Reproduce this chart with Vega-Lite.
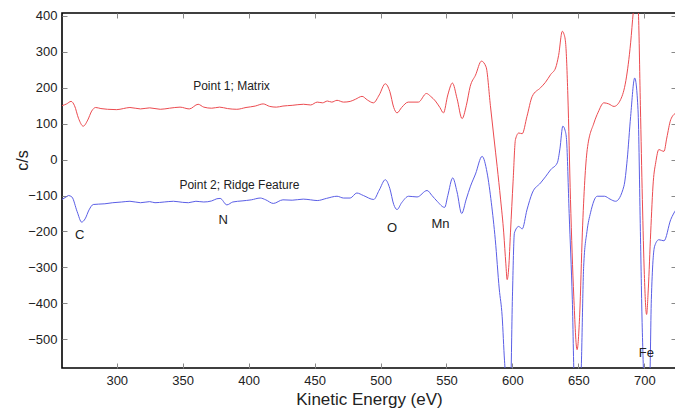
{
  "$schema": "https://vega.github.io/schema/vega-lite/v6.json",
  "width": 614,
  "height": 355,
  "autosize": "none",
  "padding": {"left": 62, "top": 13, "right": 0, "bottom": 46},
  "background": "white",
  "config": {
    "view": {"stroke": "#000", "strokeWidth": 1.6},
    "font": "Liberation Sans",
    "axis": {"domain": false, "grid": false, "tickColor": "#888", "tickWidth": 1, "labelColor": "#222", "labelFontSize": 13, "labelFont": "Liberation Sans", "titleFont": "Liberation Sans", "titleFontWeight": "normal", "titleColor": "#222"}
  },
  "datasets": {
    "curves": [
      {"s": "Point 1", "x": 258.5, "y": 150}, {"s": "Point 1", "x": 262, "y": 155}, {"s": "Point 1", "x": 265.4, "y": 162}, {"s": "Point 1", "x": 268, "y": 150}, {"s": "Point 1", "x": 271, "y": 115}, {"s": "Point 1", "x": 274.6, "y": 93}, {"s": "Point 1", "x": 278, "y": 110}, {"s": "Point 1", "x": 281, "y": 135}, {"s": "Point 1", "x": 284, "y": 145}, {"s": "Point 1", "x": 288, "y": 142}, {"s": "Point 1", "x": 293, "y": 140}, {"s": "Point 1", "x": 300, "y": 139}, {"s": "Point 1", "x": 305, "y": 142}, {"s": "Point 1", "x": 310, "y": 145}, {"s": "Point 1", "x": 318, "y": 141}, {"s": "Point 1", "x": 325, "y": 144}, {"s": "Point 1", "x": 333, "y": 140}, {"s": "Point 1", "x": 340, "y": 143}, {"s": "Point 1", "x": 348, "y": 146}, {"s": "Point 1", "x": 355, "y": 141}, {"s": "Point 1", "x": 361.7, "y": 154}, {"s": "Point 1", "x": 366, "y": 146}, {"s": "Point 1", "x": 372, "y": 143}, {"s": "Point 1", "x": 378, "y": 146}, {"s": "Point 1", "x": 384, "y": 142}, {"s": "Point 1", "x": 391, "y": 140}, {"s": "Point 1", "x": 398, "y": 145}, {"s": "Point 1", "x": 405, "y": 149}, {"s": "Point 1", "x": 411, "y": 155}, {"s": "Point 1", "x": 416, "y": 148}, {"s": "Point 1", "x": 421, "y": 146}, {"s": "Point 1", "x": 426, "y": 149}, {"s": "Point 1", "x": 433, "y": 151}, {"s": "Point 1", "x": 441.6, "y": 154}, {"s": "Point 1", "x": 447, "y": 152}, {"s": "Point 1", "x": 452, "y": 160}, {"s": "Point 1", "x": 456, "y": 158}, {"s": "Point 1", "x": 459.7, "y": 163}, {"s": "Point 1", "x": 463, "y": 160}, {"s": "Point 1", "x": 467, "y": 165}, {"s": "Point 1", "x": 472, "y": 160}, {"s": "Point 1", "x": 477, "y": 162}, {"s": "Point 1", "x": 481, "y": 168}, {"s": "Point 1", "x": 486, "y": 176}, {"s": "Point 1", "x": 490, "y": 166}, {"s": "Point 1", "x": 494.6, "y": 158}, {"s": "Point 1", "x": 499, "y": 180}, {"s": "Point 1", "x": 503.6, "y": 211}, {"s": "Point 1", "x": 507, "y": 190}, {"s": "Point 1", "x": 510, "y": 145}, {"s": "Point 1", "x": 512.5, "y": 130}, {"s": "Point 1", "x": 516, "y": 145}, {"s": "Point 1", "x": 521, "y": 160}, {"s": "Point 1", "x": 528.7, "y": 160}, {"s": "Point 1", "x": 534.8, "y": 184}, {"s": "Point 1", "x": 538, "y": 176}, {"s": "Point 1", "x": 541.6, "y": 163}, {"s": "Point 1", "x": 545, "y": 145}, {"s": "Point 1", "x": 547.7, "y": 130}, {"s": "Point 1", "x": 551, "y": 180}, {"s": "Point 1", "x": 554.5, "y": 213}, {"s": "Point 1", "x": 558, "y": 170}, {"s": "Point 1", "x": 561.8, "y": 114}, {"s": "Point 1", "x": 565, "y": 150}, {"s": "Point 1", "x": 568, "y": 204}, {"s": "Point 1", "x": 572, "y": 235}, {"s": "Point 1", "x": 576.5, "y": 274}, {"s": "Point 1", "x": 580, "y": 258}, {"s": "Point 1", "x": 583.3, "y": 150}, {"s": "Point 1", "x": 586, "y": 60}, {"s": "Point 1", "x": 588.4, "y": -19}, {"s": "Point 1", "x": 591, "y": -110}, {"s": "Point 1", "x": 593.4, "y": -204}, {"s": "Point 1", "x": 595, "y": -290}, {"s": "Point 1", "x": 596, "y": -334}, {"s": "Point 1", "x": 597.2, "y": -300}, {"s": "Point 1", "x": 598.5, "y": -204}, {"s": "Point 1", "x": 600.5, "y": -60}, {"s": "Point 1", "x": 602.3, "y": 56}, {"s": "Point 1", "x": 604.8, "y": 74}, {"s": "Point 1", "x": 607.4, "y": 72}, {"s": "Point 1", "x": 611, "y": 120}, {"s": "Point 1", "x": 615, "y": 176}, {"s": "Point 1", "x": 621.3, "y": 200}, {"s": "Point 1", "x": 625, "y": 215}, {"s": "Point 1", "x": 629, "y": 237}, {"s": "Point 1", "x": 632.7, "y": 255}, {"s": "Point 1", "x": 635, "y": 290}, {"s": "Point 1", "x": 637.8, "y": 357}, {"s": "Point 1", "x": 639, "y": 350}, {"s": "Point 1", "x": 640.3, "y": 325}, {"s": "Point 1", "x": 642, "y": 180}, {"s": "Point 1", "x": 644, "y": -111}, {"s": "Point 1", "x": 646.5, "y": -380}, {"s": "Point 1", "x": 649, "y": -529}, {"s": "Point 1", "x": 651, "y": -430}, {"s": "Point 1", "x": 653, "y": -204}, {"s": "Point 1", "x": 656.7, "y": 28}, {"s": "Point 1", "x": 661.8, "y": 102}, {"s": "Point 1", "x": 665, "y": 132}, {"s": "Point 1", "x": 669.3, "y": 158}, {"s": "Point 1", "x": 673, "y": 155}, {"s": "Point 1", "x": 677, "y": 148}, {"s": "Point 1", "x": 682, "y": 167}, {"s": "Point 1", "x": 686, "y": 220}, {"s": "Point 1", "x": 689.6, "y": 325}, {"s": "Point 1", "x": 691.6, "y": 410}, {"s": "Point 1", "x": 693.5, "y": 470}, {"s": "Point 1", "x": 695.4, "y": 415}, {"s": "Point 1", "x": 697, "y": 150}, {"s": "Point 1", "x": 698.5, "y": -111}, {"s": "Point 1", "x": 700, "y": -320}, {"s": "Point 1", "x": 701.7, "y": -431}, {"s": "Point 1", "x": 703, "y": -360}, {"s": "Point 1", "x": 704.8, "y": -204}, {"s": "Point 1", "x": 706.8, "y": -60}, {"s": "Point 1", "x": 708.6, "y": -9}, {"s": "Point 1", "x": 711, "y": 28}, {"s": "Point 1", "x": 713, "y": 25}, {"s": "Point 1", "x": 714.9, "y": 23}, {"s": "Point 1", "x": 717, "y": 60}, {"s": "Point 1", "x": 720, "y": 111}, {"s": "Point 1", "x": 724, "y": 130},

      {"s": "Point 2", "x": 258.5, "y": -111}, {"s": "Point 2", "x": 262, "y": -103}, {"s": "Point 2", "x": 263.3, "y": -100}, {"s": "Point 2", "x": 266, "y": -104}, {"s": "Point 2", "x": 270, "y": -145}, {"s": "Point 2", "x": 273.4, "y": -174}, {"s": "Point 2", "x": 276, "y": -165}, {"s": "Point 2", "x": 279, "y": -140}, {"s": "Point 2", "x": 282.2, "y": -125}, {"s": "Point 2", "x": 286, "y": -124}, {"s": "Point 2", "x": 291, "y": -123}, {"s": "Point 2", "x": 297, "y": -120}, {"s": "Point 2", "x": 303.8, "y": -118}, {"s": "Point 2", "x": 310, "y": -116}, {"s": "Point 2", "x": 318, "y": -120}, {"s": "Point 2", "x": 325, "y": -117}, {"s": "Point 2", "x": 329, "y": -120}, {"s": "Point 2", "x": 336, "y": -118}, {"s": "Point 2", "x": 343, "y": -116}, {"s": "Point 2", "x": 350, "y": -119}, {"s": "Point 2", "x": 354.3, "y": -120}, {"s": "Point 2", "x": 360, "y": -116}, {"s": "Point 2", "x": 366, "y": -118}, {"s": "Point 2", "x": 372, "y": -115}, {"s": "Point 2", "x": 375.9, "y": -109}, {"s": "Point 2", "x": 378.4, "y": -108}, {"s": "Point 2", "x": 383.5, "y": -126}, {"s": "Point 2", "x": 388, "y": -118}, {"s": "Point 2", "x": 395, "y": -115}, {"s": "Point 2", "x": 402, "y": -112}, {"s": "Point 2", "x": 408.8, "y": -107}, {"s": "Point 2", "x": 413, "y": -112}, {"s": "Point 2", "x": 418.7, "y": -122}, {"s": "Point 2", "x": 426, "y": -112}, {"s": "Point 2", "x": 433, "y": -113}, {"s": "Point 2", "x": 441.4, "y": -110}, {"s": "Point 2", "x": 447, "y": -112}, {"s": "Point 2", "x": 452, "y": -114}, {"s": "Point 2", "x": 459, "y": -108}, {"s": "Point 2", "x": 467, "y": -102}, {"s": "Point 2", "x": 472, "y": -107}, {"s": "Point 2", "x": 477, "y": -107}, {"s": "Point 2", "x": 482, "y": -93}, {"s": "Point 2", "x": 487, "y": -100}, {"s": "Point 2", "x": 494.8, "y": -111}, {"s": "Point 2", "x": 499, "y": -85}, {"s": "Point 2", "x": 503.6, "y": -56}, {"s": "Point 2", "x": 507, "y": -80}, {"s": "Point 2", "x": 510, "y": -125}, {"s": "Point 2", "x": 512.5, "y": -139}, {"s": "Point 2", "x": 516, "y": -120}, {"s": "Point 2", "x": 521.3, "y": -102}, {"s": "Point 2", "x": 527.7, "y": -104}, {"s": "Point 2", "x": 535.3, "y": -86}, {"s": "Point 2", "x": 539, "y": -100}, {"s": "Point 2", "x": 542.9, "y": -116}, {"s": "Point 2", "x": 548.6, "y": -133}, {"s": "Point 2", "x": 551, "y": -100}, {"s": "Point 2", "x": 554.7, "y": -51}, {"s": "Point 2", "x": 558, "y": -90}, {"s": "Point 2", "x": 561.5, "y": -150}, {"s": "Point 2", "x": 565, "y": -110}, {"s": "Point 2", "x": 568.2, "y": -74}, {"s": "Point 2", "x": 572, "y": -40}, {"s": "Point 2", "x": 577, "y": 9}, {"s": "Point 2", "x": 580.8, "y": -37}, {"s": "Point 2", "x": 584, "y": -120}, {"s": "Point 2", "x": 587, "y": -223}, {"s": "Point 2", "x": 590, "y": -360}, {"s": "Point 2", "x": 592.2, "y": -436}, {"s": "Point 2", "x": 594, "y": -560}, {"s": "Point 2", "x": 596, "y": -640}, {"s": "Point 2", "x": 598.5, "y": -640}, {"s": "Point 2", "x": 600, "y": -380}, {"s": "Point 2", "x": 601.5, "y": -204}, {"s": "Point 2", "x": 604.8, "y": -186}, {"s": "Point 2", "x": 607.4, "y": -193}, {"s": "Point 2", "x": 611, "y": -140}, {"s": "Point 2", "x": 615, "y": -93}, {"s": "Point 2", "x": 621.3, "y": -65}, {"s": "Point 2", "x": 625, "y": -48}, {"s": "Point 2", "x": 629, "y": -28}, {"s": "Point 2", "x": 634, "y": -9}, {"s": "Point 2", "x": 636, "y": 30}, {"s": "Point 2", "x": 638.2, "y": 93}, {"s": "Point 2", "x": 640, "y": 80}, {"s": "Point 2", "x": 641, "y": 56}, {"s": "Point 2", "x": 643, "y": -150}, {"s": "Point 2", "x": 645.4, "y": -390}, {"s": "Point 2", "x": 647, "y": -620}, {"s": "Point 2", "x": 651.6, "y": -620}, {"s": "Point 2", "x": 654, "y": -297}, {"s": "Point 2", "x": 656.5, "y": -200}, {"s": "Point 2", "x": 659.2, "y": -148}, {"s": "Point 2", "x": 664.3, "y": -102}, {"s": "Point 2", "x": 669.8, "y": -102}, {"s": "Point 2", "x": 674, "y": -110}, {"s": "Point 2", "x": 678.2, "y": -116}, {"s": "Point 2", "x": 684.5, "y": -74}, {"s": "Point 2", "x": 687, "y": 0}, {"s": "Point 2", "x": 689.6, "y": 120}, {"s": "Point 2", "x": 692.7, "y": 227}, {"s": "Point 2", "x": 695.2, "y": 139}, {"s": "Point 2", "x": 697, "y": -200}, {"s": "Point 2", "x": 698.5, "y": -482}, {"s": "Point 2", "x": 700, "y": -620}, {"s": "Point 2", "x": 704, "y": -620}, {"s": "Point 2", "x": 705.3, "y": -390}, {"s": "Point 2", "x": 707.8, "y": -241}, {"s": "Point 2", "x": 711, "y": -223}, {"s": "Point 2", "x": 714.9, "y": -226}, {"s": "Point 2", "x": 720, "y": -167}, {"s": "Point 2", "x": 724, "y": -139}
    ],
    "labels": [
      {"t": "Point 1; Matrix", "x": 387, "y": 204, "size": 12},
      {"t": "Point 2; Ridge Feature", "x": 393, "y": -72, "size": 12},
      {"t": "C", "x": 272, "y": -209, "size": 13},
      {"t": "N", "x": 380.7, "y": -167, "size": 13},
      {"t": "O", "x": 508.7, "y": -189, "size": 13},
      {"t": "Mn", "x": 545.4, "y": -178, "size": 13},
      {"t": "Fe", "x": 701.5, "y": -537, "size": 13}
    ]
  },
  "layer": [
    {
      "data": {"name": "curves"},
      "mark": {"type": "line", "strokeWidth": 1, "clip": true, "interpolate": "monotone"},
      "encoding": {
        "x": {"field": "x", "type": "quantitative", "scale": {"domain": [258.5, 724], "nice": false, "zero": false},
          "axis": {"orient": "bottom", "values": [300, 350, 400, 450, 500, 550, 600, 650, 700], "tickSize": -5, "labelPadding": 11, "title": "Kinetic Energy (eV)", "titleFontSize": 17, "titlePadding": 4}},
        "y": {"field": "y", "type": "quantitative", "scale": {"domain": [-580, 408], "nice": false, "zero": false},
          "axis": {"orient": "left", "values": [-500, -400, -300, -200, -100, 0, 100, 200, 300, 400], "tickSize": -5, "labelPadding": 10, "title": "c/s", "titleFontSize": 16, "titleX": -40, "titleY": 147, "titleAngle": -90, "titleBaseline": "middle", "titleAlign": "center"}},
        "color": {"field": "s", "type": "nominal", "scale": {"domain": ["Point 1", "Point 2"], "range": ["#ec4b50", "#5a5ee6"]}, "legend": null},
        "detail": {"field": "s"}
      }
    },
    {
      "data": {"name": "labels"},
      "mark": {"type": "text", "font": "Liberation Sans", "color": "#222", "align": "center", "baseline": "middle"},
      "encoding": {
        "x": {"field": "x", "type": "quantitative", "axis": {"orient": "top", "values": [300, 350, 400, 450, 500, 550, 600, 650, 700], "tickSize": -5, "labels": false, "title": null}},
        "y": {"field": "y", "type": "quantitative", "axis": {"orient": "right", "values": [-500, -400, -300, -200, -100, 0, 100, 200, 300, 400], "tickSize": -5, "labels": false, "title": null}},
        "text": {"field": "t"},
        "size": {"field": "size", "type": "quantitative", "scale": null}
      }
    }
  ],
  "resolve": {"axis": {"x": "independent", "y": "independent"}}
}
